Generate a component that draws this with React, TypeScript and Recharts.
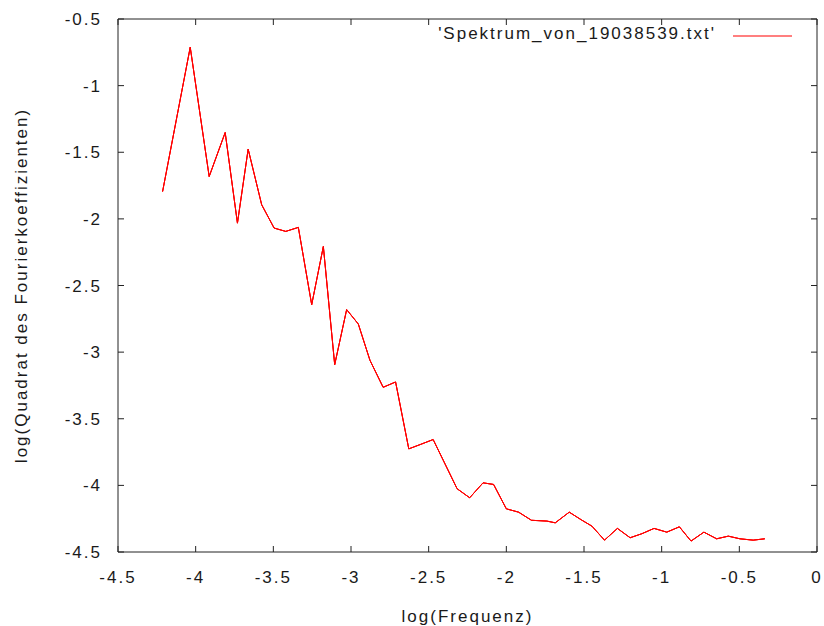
import { LineChart, Line, XAxis, YAxis } from 'recharts';

// log10 frequency / log10 squared Fourier coefficient
const freq = [
  -4.213, -4.035, -3.913, -3.81, -3.731, -3.662, -3.575, -3.495, -3.42, -3.339,
  -3.253, -3.178, -3.105, -3.028, -2.953, -2.878, -2.793, -2.713, -2.628, -2.553,
  -2.471, -2.317, -2.236, -2.15, -2.082, -2.0, -1.921, -1.838, -1.739, -1.685,
  -1.595, -1.514, -1.449, -1.368, -1.285, -1.203, -1.128, -1.049, -0.967, -0.886,
  -0.811, -0.728, -0.646, -0.571, -0.496, -0.411, -0.336,
];
const power = [
  -1.795, -0.712, -1.682, -1.352, -2.032, -1.477, -1.894, -2.069, -2.094, -2.064,
  -2.644, -2.207, -3.094, -2.681, -2.789, -3.061, -3.264, -3.224, -3.726, -3.693,
  -3.656, -4.025, -4.093, -3.981, -3.993, -4.176, -4.201, -4.262, -4.268, -4.281,
  -4.201, -4.261, -4.306, -4.411, -4.323, -4.393, -4.363, -4.323, -4.351, -4.311,
  -4.418, -4.351, -4.401, -4.381, -4.401, -4.411, -4.401,
];
const xTicks = [-4.5, -4, -3.5, -3, -2.5, -2, -1.5, -1, -0.5, 0];
const yTicks = [-4.5, -4, -3.5, -3, -2.5, -2, -1.5, -1, -0.5];
const seriesName = "'Spektrum_von_19038539.txt'";

const data = freq.map((f, i) => ({ f, p: power[i] }));

const FONT = 'Liberation Sans, Arial, sans-serif';
const TEXT = '#1a1a1a';
const FRAME = '#222';
const RED = '#ff0000';
const textProps = { fill: TEXT, fontSize: 17, fontFamily: FONT, letterSpacing: 2 };
const xDomain: [number, number] = [-4.5, 0];
const yDomain: [number, number] = [-4.5, -0.5];
const frameLine = { stroke: FRAME, strokeWidth: 1, strokeOpacity: 1 };

// labels only; tickSize/tickMargin are 0 so x/y sit on the axis line
const BottomTick = ({ x, y, payload }: any) => (
  <text x={x} y={y + 31} textAnchor="middle" {...textProps}>{payload.value}</text>
);
const LeftTick = ({ x, y, payload }: any) => (
  <text x={x - 16} y={y + 6} textAnchor="end" {...textProps}>{payload.value}</text>
);

const XLabel = ({ viewBox }: any) => (
  <text x={viewBox.x + viewBox.width / 2} y={viewBox.y + viewBox.height - 4.5} textAnchor="middle" {...textProps}>
    log(Frequenz)
  </text>
);

const YLabel = ({ viewBox }: any) => {
  const cx = viewBox.x + 27;
  const cy = viewBox.y + viewBox.height / 2;
  return (
    <text x={cx} y={cy} transform={`rotate(-90 ${cx} ${cy})`} textAnchor="middle" {...textProps}>
      log(Quadrat des Fourierkoeffizienten)
    </text>
  );
};

// key in the top right corner, hung off the mirrored top axis (its box starts at the frame)
const KeyBox = ({ viewBox }: any) => {
  const right = viewBox.x + viewBox.width;
  const y = viewBox.y;
  return (
    <g>
      <text x={right - 101} y={y + 20} textAnchor="end" {...textProps}>{seriesName}</text>
      <line x1={right - 84} x2={right - 25} y1={y + 17} y2={y + 17} stroke={RED} strokeWidth={1.2} />
    </g>
  );
};

// mirrored axes only draw the inward gnuplot tick marks
const innerTicks = {
  type: 'number' as const,
  mirror: true,
  interval: 0,
  allowDataOverflow: true,
  tickSize: 6,
  tick: { fill: 'none' },
  tickFormatter: () => '',
  tickLine: frameLine,
  stroke: FRAME,
};

export default function App() {
  return (
    <div style={{ position: 'absolute', top: 0, left: 0, width: 824, height: 626, background: '#fff' }}>
      <style>{'body{margin:0}'}</style>
      <LineChart width={824} height={626} data={data} margin={{ top: 19, right: 7, bottom: 0, left: 0 }}>
        <XAxis
          dataKey="f"
          type="number"
          domain={xDomain}
          ticks={xTicks}
          interval={0}
          allowDataOverflow
          height={74}
          tickSize={0}
          tickMargin={0}
          tickLine={false}
          tick={BottomTick}
          axisLine={frameLine}
          label={{ content: XLabel }}
        />
        <YAxis
          type="number"
          domain={yDomain}
          ticks={yTicks}
          interval={0}
          allowDataOverflow
          width={118}
          tickSize={0}
          tickMargin={0}
          tickLine={false}
          tick={LeftTick}
          axisLine={frameLine}
          label={{ content: YLabel }}
        />
        <XAxis {...innerTicks} xAxisId="bm" dataKey="f" orientation="bottom" domain={xDomain} ticks={xTicks} height={40} axisLine={false} />
        <YAxis {...innerTicks} yAxisId="lm" orientation="left" domain={yDomain} ticks={yTicks} width={50} axisLine={false} />
        <XAxis
          {...innerTicks}
          xAxisId="top"
          dataKey="f"
          orientation="top"
          domain={xDomain}
          ticks={xTicks}
          height={40}
          axisLine={frameLine}
          label={{ content: KeyBox }}
        />
        <YAxis {...innerTicks} yAxisId="right" orientation="right" domain={yDomain} ticks={yTicks} width={50} axisLine={frameLine} />
        {/* twins on the mirrored axes (same domain, so they sit exactly under the main line) */}
        <Line xAxisId="top" yAxisId="right" dataKey="p" stroke={RED} dot={false} activeDot={false} legendType="none" isAnimationActive={false} />
        <Line xAxisId="bm" yAxisId="lm" dataKey="p" stroke={RED} dot={false} activeDot={false} legendType="none" isAnimationActive={false} />
        <Line
          type="linear"
          dataKey="p"
          name={seriesName}
          stroke={RED}
          strokeWidth={1}
          dot={false}
          activeDot={false}
          isAnimationActive={false}
        />
      </LineChart>
    </div>
  );
}
